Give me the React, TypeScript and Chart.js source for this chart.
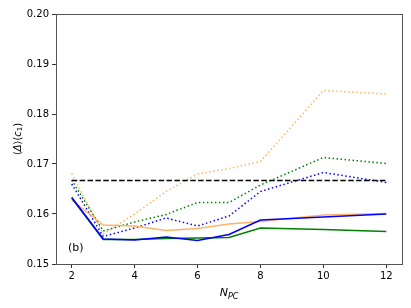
import React, { useEffect, useRef } from "react";
import { Chart, registerables } from "chart.js";

Chart.register(...registerables);

const nPC = [2, 3, 4, 5, 6, 7, 8, 10, 12];
const xTicks = [2, 4, 6, 8, 10, 12];
const yTicks = [0.15, 0.16, 0.17, 0.18, 0.19, 0.2];
const baseline = 0.1667;

const orangeDotted = [0.1681, 0.156, 0.16, 0.1645, 0.168, 0.1691, 0.1705, 0.1847, 0.184];
const greenDotted = [0.1668, 0.1566, 0.1584, 0.1599, 0.1623, 0.1623, 0.1658, 0.1713, 0.1701];
const blueDotted = [0.166, 0.1555, 0.1572, 0.1592, 0.1576, 0.1596, 0.1645, 0.1683, 0.1663];
const orangeSolid = [0.1628, 0.1578, 0.1576, 0.1567, 0.1571, 0.158, 0.1585, 0.1598, 0.1601];
const greenSolid = [0.1632, 0.1549, 0.1549, 0.1551, 0.1552, 0.1553, 0.1572, 0.1569, 0.1565];
const blueSolid = [0.1633, 0.155, 0.1548, 0.1554, 0.1547, 0.1559, 0.1588, 0.1594, 0.16];

const ORANGE = "#ffb366";
const GREEN = "#008000";
const BLUE = "#0000ff";
const FONT = "DejaVu Sans";

const pts = (ys: number[]) => ys.map((y, i) => ({ x: nPC[i], y }));

const framePlugin = {
  id: "frame",
  afterDraw(chart: any) {
    const { ctx, chartArea: a } = chart;
    ctx.save();
    ctx.strokeStyle = "#555555";
    ctx.lineWidth = 1;
    ctx.strokeRect(a.left + 0.5, a.top + 0.5, a.right - a.left, a.bottom - a.top);
    // panel label
    ctx.fillStyle = "#000";
    ctx.font = `11px ${FONT}`;
    ctx.textBaseline = "middle";
    ctx.textAlign = "left";
    ctx.fillText("(b)", 68, 248);
    // x axis title N_PC
    const cx = (a.left + a.right) / 2;
    ctx.font = `italic 11px ${FONT}`;
    const wN = ctx.measureText("N").width;
    ctx.font = `italic 8px ${FONT}`;
    const wS = ctx.measureText("PC").width;
    const x0 = cx - (wN + wS) / 2;
    ctx.textBaseline = "alphabetic";
    ctx.font = `italic 11px ${FONT}`;
    ctx.fillText("N", x0, 296);
    ctx.font = `italic 8px ${FONT}`;
    ctx.fillText("PC", x0 + wN, 299);
    // y axis title ⟨Δ⟩(c1)
    ctx.translate(18, (a.top + a.bottom) / 2);
    ctx.rotate(-Math.PI / 2);
    const parts: [string, string, number][] = [
      ["⟨", `10px ${FONT}`, 0],
      ["Δ", `italic 10px ${FONT}`, 0],
      ["⟩(", `10px ${FONT}`, 0],
      ["c", `italic 10px ${FONT}`, 0],
      ["1", `7px ${FONT}`, 2.5],
      [")", `10px ${FONT}`, 0],
    ];
    let total = 0;
    for (const [t, f] of parts) {
      ctx.font = f;
      total += ctx.measureText(t).width;
    }
    let px = -total / 2;
    ctx.textBaseline = "middle";
    for (const [t, f, dy] of parts) {
      ctx.font = f;
      ctx.fillText(t, px, dy);
      px += ctx.measureText(t).width;
    }
    ctx.restore();
  },
};

export default function App() {
  const ref = useRef<HTMLCanvasElement>(null);
  useEffect(() => {
    if (!ref.current) return;
    const dotted = [1.5, 2.5];
    const mk = (data: number[], color: string, dash: number[], width = 1.5) => ({
      data: pts(data),
      borderColor: color,
      backgroundColor: color,
      borderWidth: width,
      borderDash: dash,
      pointRadius: 0,
      fill: false,
      tension: 0,
    });
    const chart = new Chart(ref.current, {
      type: "line",
      data: {
        datasets: [
          {
            data: [
              { x: nPC[0], y: baseline },
              { x: nPC[nPC.length - 1], y: baseline },
            ],
            borderColor: "#000",
            borderWidth: 1.5,
            borderDash: [5.5, 2.4],
            pointRadius: 0,
          },
          mk(blueSolid, BLUE, [], 1.7),
          mk(greenSolid, GREEN, [], 1.5),
          mk(orangeSolid, ORANGE, [], 1.5),
          mk(blueDotted, BLUE, dotted),
          mk(greenDotted, GREEN, dotted),
          mk(orangeDotted, ORANGE, dotted),
        ] as any,
      },
      options: {
        animation: false,
        responsive: false,
        devicePixelRatio: 1,
        layout: { padding: { top: 14, right: 9, left: 0, bottom: 0 } },
        plugins: { legend: { display: false }, tooltip: { enabled: false } },
        scales: {
          x: {
            type: "linear",
            min: 1.5,
            max: 12.5,
            afterBuildTicks: (s: any) => {
              s.ticks = xTicks.map((v) => ({ value: v }));
            },
            afterFit: (s: any) => {
              s.height = 44;
            },
            grid: {
              display: true,
              drawOnChartArea: false,
              drawTicks: true,
              tickLength: 4,
              color: "#333",
            },
            border: { display: false },
            ticks: {
              color: "#000",
              font: { family: FONT, size: 10 },
              padding: 2,
              maxRotation: 0,
              callback: (v: any) => String(v),
            },
          },
          y: {
            type: "linear",
            min: 0.15,
            max: 0.2,
            afterBuildTicks: (s: any) => {
              s.ticks = yTicks.map((v) => ({ value: v }));
            },
            afterFit: (s: any) => {
              s.width = 56;
            },
            grid: {
              display: true,
              drawOnChartArea: false,
              drawTicks: true,
              tickLength: 4,
              color: "#333",
            },
            border: { display: false },
            ticks: {
              color: "#000",
              font: { family: FONT, size: 10 },
              padding: 3,
              callback: (v: any) => Number(v).toFixed(2),
            },
          },
        },
      },
      plugins: [framePlugin],
    });
    return () => chart.destroy();
  }, []);
  return (
    <div style={{ position: "fixed", left: 0, top: 0, width: 411, height: 308, background: "#fff" }}>
      <canvas ref={ref} width={411} height={308} style={{ width: 411, height: 308 }} />
    </div>
  );
}
